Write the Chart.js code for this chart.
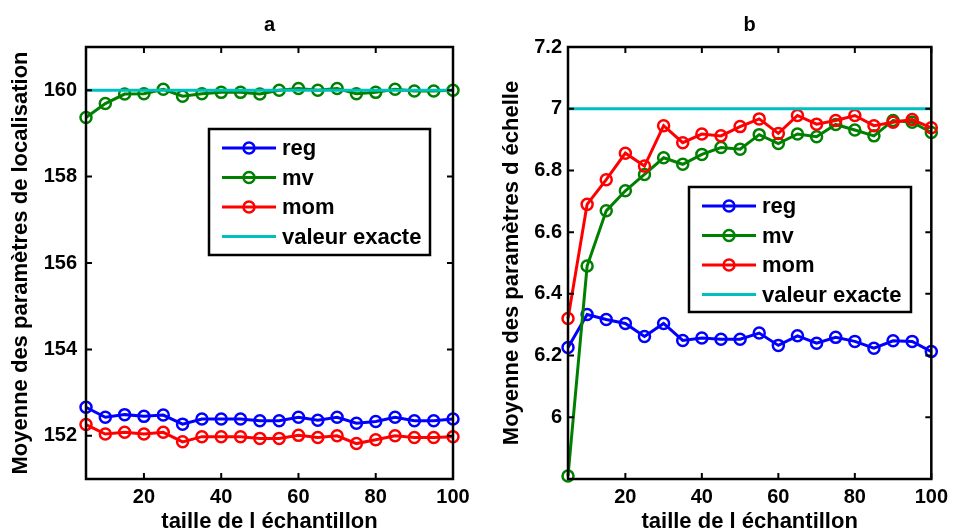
<!DOCTYPE html>
<html>
<head>
<meta charset="utf-8">
<script src="https://cdn.jsdelivr.net/npm/chart.js@4.4.0/dist/chart.umd.min.js"></script>
<style>
  body { margin: 0; background: #fff; }
  #wrap { position: relative; width: 954px; height: 532px; }
  .panel { position: absolute; top: 0; width: 477px; height: 532px; }
</style>
</head>
<body>
<div id="wrap">
  <div class="panel" style="left:0"><canvas id="chartA" width="477" height="532"></canvas></div>
  <div class="panel" style="left:477px"><canvas id="chartB" width="477" height="532"></canvas></div>
</div>
<script>
// Sample sizes (x axis)
const sampleSizes = [5, 10, 15, 20, 25, 30, 35, 40, 45, 50, 55, 60, 65, 70, 75, 80, 85, 90, 95, 100];
const xTicks = [20, 40, 60, 80, 100];

// Panel a - location parameter
const locReg = [152.66, 152.43, 152.49, 152.45, 152.48, 152.27, 152.39, 152.39, 152.39, 152.35,
                152.35, 152.43, 152.36, 152.43, 152.29, 152.33, 152.43, 152.35, 152.35, 152.39];
const locMv = [159.37, 159.69, 159.91, 159.92, 160.02, 159.86, 159.92, 159.95, 159.95, 159.91,
               160.0, 160.04, 160.0, 160.04, 159.92, 159.95, 160.02, 159.98, 159.98, 160.0];
const locMom = [152.26, 152.04, 152.08, 152.04, 152.08, 151.86, 151.98, 151.98, 151.98, 151.94,
                151.94, 152.01, 151.96, 152.0, 151.82, 151.91, 152.0, 151.96, 151.96, 151.98];
const locExact = 160;
const locTicks = [152, 154, 156, 158, 160];

// Panel b - scale parameter
const scaleReg = [6.226, 6.333, 6.317, 6.304, 6.262, 6.304, 6.249, 6.257, 6.253, 6.253,
                  6.273, 6.233, 6.264, 6.24, 6.259, 6.246, 6.224, 6.248, 6.246, 6.213];
const scaleMv = [5.81, 6.49, 6.669, 6.734, 6.787, 6.841, 6.82, 6.852, 6.874, 6.869,
                 6.916, 6.887, 6.918, 6.909, 6.949, 6.931, 6.912, 6.962, 6.956, 6.923];
const scaleMom = [6.32, 6.69, 6.77, 6.856, 6.814, 6.945, 6.89, 6.918, 6.912, 6.942,
                  6.967, 6.92, 6.978, 6.95, 6.962, 6.978, 6.945, 6.956, 6.965, 6.938];
const scaleExact = 7;
const scaleTicks = [6, 6.2, 6.4, 6.6, 6.8, 7, 7.2];

const seriesLabels = ['reg', 'mv', 'mom', 'valeur exacte'];
const FONT = 'Liberation Sans, Arial, sans-serif';

/**
 * MATLAB-like frame: black box, inward ticks on all four sides,
 * bold title above and a boxed legend inside the axes.
 */
const matlabFrame = {
  id: 'matlabFrame',
  afterDraw(chart, args, opts) {
    const { ctx, chartArea: a } = chart;
    const xs = chart.scales.x;
    const ys = chart.scales.y;
    ctx.save();

    // ticks
    ctx.strokeStyle = '#000';
    ctx.lineWidth = 2;
    ctx.beginPath();
    xs.ticks.forEach(t => {
      const px = xs.getPixelForValue(t.value);
      ctx.moveTo(px, a.bottom); ctx.lineTo(px, a.bottom - 6);
      ctx.moveTo(px, a.top); ctx.lineTo(px, a.top + 6);
    });
    ys.ticks.forEach(t => {
      const py = ys.getPixelForValue(t.value);
      ctx.moveTo(a.left, py); ctx.lineTo(a.left + 6, py);
      ctx.moveTo(a.right, py); ctx.lineTo(a.right - 6, py);
    });
    ctx.stroke();

    // box
    ctx.lineWidth = 2.5;
    ctx.strokeRect(a.left, a.top, a.right - a.left, a.bottom - a.top);

    // title
    ctx.fillStyle = '#000';
    ctx.font = 'bold 20px ' + FONT;
    ctx.textAlign = 'center';
    ctx.textBaseline = 'middle';
    ctx.fillText(opts.title, (a.left + a.right) / 2, 25);

    // legend
    const lg = opts.legend;
    ctx.fillStyle = '#fff';
    ctx.fillRect(lg.x, lg.y, lg.w, lg.h);
    ctx.lineWidth = 2.5;
    ctx.strokeStyle = '#000';
    ctx.strokeRect(lg.x, lg.y, lg.w, lg.h);
    ctx.font = 'bold 22px ' + FONT;
    chart.data.datasets.forEach((ds, i) => {
      const ry = lg.y + 19 + i * 29.5;
      const x0 = lg.x + 13;
      const x1 = lg.x + 67;
      ctx.strokeStyle = ds.borderColor;
      ctx.lineWidth = 3;
      ctx.beginPath();
      ctx.moveTo(x0, ry); ctx.lineTo(x1, ry);
      ctx.stroke();
      if (ds.pointRadius > 0) {
        ctx.lineWidth = 2.5;
        ctx.beginPath();
        ctx.arc((x0 + x1) / 2, ry, 5.5, 0, Math.PI * 2);
        ctx.stroke();
      }
      ctx.fillStyle = '#000';
      ctx.textAlign = 'left';
      ctx.fillText(ds.label, lg.x + 73, ry + 1);
    });
    ctx.restore();
  }
};

function seriesDataset(label, values, color, order) {
  return {
    label: label,
    data: sampleSizes.map((x, i) => ({ x: x, y: values[i] })),
    borderColor: color,
    backgroundColor: 'rgba(0,0,0,0)',
    borderWidth: 3,
    pointRadius: 5.5,
    pointBorderWidth: 2.5,
    pointBackgroundColor: 'rgba(0,0,0,0)',
    pointBorderColor: color,
    tension: 0,
    clip: false,
    order: order
  };
}

function exactDataset(value) {
  return {
    label: seriesLabels[3],
    data: [{ x: sampleSizes[0], y: value }, { x: sampleSizes[sampleSizes.length - 1], y: value }],
    borderColor: '#00BFBF',
    borderWidth: 3,
    pointRadius: 0,
    clip: false,
    order: 1
  };
}

/**
 * Create one panel
 */
function createPanel(canvasId, cfg) {
  const ctx = document.getElementById(canvasId).getContext('2d');
  const tickFont = { family: FONT, size: 20, weight: 'bold' };
  const titleFont = { family: FONT, size: 22, weight: 'bold' };

  return new Chart(ctx, {
    type: 'line',
    data: {
      datasets: [
        seriesDataset(seriesLabels[0], cfg.reg, '#0000FF', 4),
        seriesDataset(seriesLabels[1], cfg.mv, '#008000', 3),
        seriesDataset(seriesLabels[2], cfg.mom, '#FF0000', 2),
        exactDataset(cfg.exact)
      ]
    },
    options: {
      responsive: false,
      animation: false,
      layout: { padding: { left: 0, top: 47, right: cfg.padRight, bottom: 0 } },
      scales: {
        x: {
          type: 'linear',
          min: 5,
          max: 100,
          afterBuildTicks: s => { s.ticks = xTicks.map(v => ({ value: v })); },
          afterFit: s => { s.height = 53; },
          grid: { display: false, drawTicks: false },
          border: { display: false },
          ticks: { color: '#000', font: tickFont, padding: 6, maxRotation: 0 },
          title: {
            display: true,
            text: 'taille de l échantillon',
            color: '#000',
            font: titleFont,
            padding: { top: 0, bottom: -3 }
          }
        },
        y: {
          min: cfg.yMin,
          max: cfg.yMax,
          afterBuildTicks: s => { s.ticks = cfg.yTicks.map(v => ({ value: v })); },
          afterFit: s => { s.width = cfg.yWidth; },
          grid: { display: false, drawTicks: false },
          border: { display: false },
          ticks: {
            color: '#000',
            font: tickFont,
            padding: cfg.tickPad,
            callback: v => String(+v.toFixed(1))
          },
          title: {
            display: true,
            text: cfg.yTitle,
            color: '#000',
            font: titleFont,
            padding: { top: cfg.titlePad, bottom: 0 }
          }
        }
      },
      plugins: {
        legend: { display: false },
        tooltip: { enabled: false },
        matlabFrame: { title: cfg.title, legend: cfg.legend }
      }
    },
    plugins: [matlabFrame]
  });
}

createPanel('chartA', {
  reg: locReg, mv: locMv, mom: locMom, exact: locExact,
  yMin: 151, yMax: 161, yTicks: locTicks,
  yTitle: 'Moyenne des paramètres de localisation',
  yWidth: 86, padRight: 24, tickPad: 9, titlePad: 8,
  title: 'a',
  legend: { x: 209, y: 129, w: 221, h: 126 }
});

createPanel('chartB', {
  reg: scaleReg, mv: scaleMv, mom: scaleMom, exact: scaleExact,
  yMin: 5.8, yMax: 7.2, yTicks: scaleTicks,
  yTitle: 'Moyenne des paramètres d échelle',
  yWidth: 91, padRight: 19, tickPad: 6, titlePad: 22,
  title: 'b',
  legend: { x: 212, y: 187, w: 222, h: 125 }
});
</script>
</body>
</html>
